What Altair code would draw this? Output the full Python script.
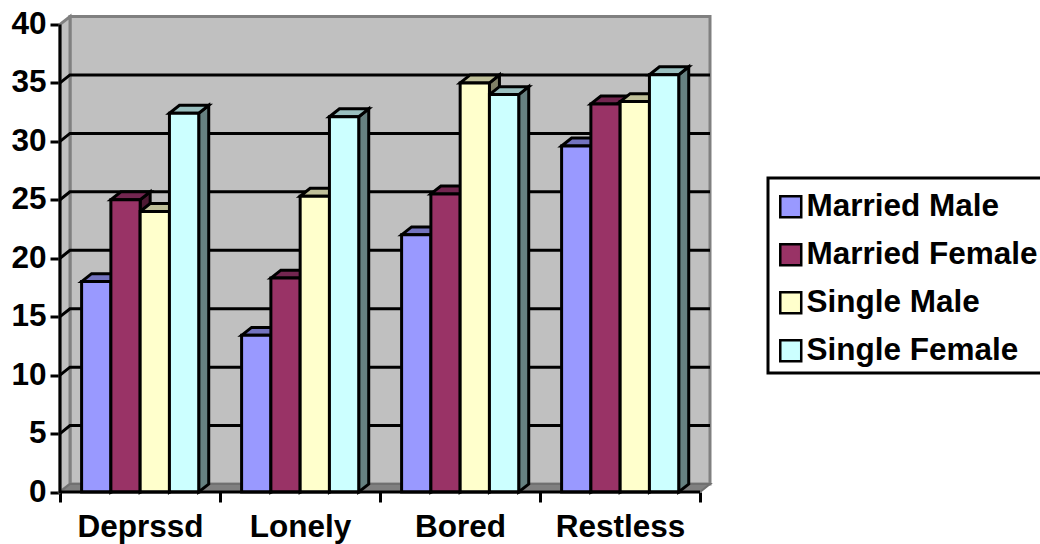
import altair as alt
import pandas as pd

categories = ["Deprssd", "Lonely", "Bored", "Restless"]
series_names = ["Married Male", "Married Female", "Single Male", "Single Female"]
married_male = [18.0, 13.4, 22.0, 29.6]
married_female = [25.0, 18.3, 25.5, 33.2]
single_male = [24.0, 25.3, 35.0, 33.4]
single_female = [32.4, 32.1, 34.0, 35.7]
front_colors = ["#9999FF", "#993366", "#FFFFCC", "#CCFFFF"]
top_colors = ["#7373BF", "#732650", "#BFBF99", "#99BFBF"]
side_colors = ["#4D4D80", "#4D1A33", "#808066", "#668080"]
y_ticks = [0, 5, 10, 15, 20, 25, 30, 35, 40]

# Oblique depth of the pseudo-3D box, in data units
DEPTH_X = 0.0625
DEPTH_Y = 0.68
BAR_START = 0.135
BAR_WIDTH = 0.183
X_MAX = len(categories) + DEPTH_X
Y_TOP = 40

values_by_series = [married_male, married_female, single_male, single_female]

fronts, sides, tops = [], [], []
for s, (name, vals) in enumerate(zip(series_names, values_by_series)):
    for c, v in enumerate(vals):
        x0 = c + BAR_START + s * BAR_WIDTH
        x1 = x0 + BAR_WIDTH
        key = f"{c}-{s}"
        fronts.append(dict(series=name, x=x0, x2=x1, y=v, y2=0))
        sides += [
            dict(bar=key, order=s, x=x1, y=v, y2=0, shade=side_colors[s]),
            dict(bar=key, order=s, x=x1 + DEPTH_X, y=v + DEPTH_Y, y2=DEPTH_Y, shade=side_colors[s]),
        ]
        tops += [
            dict(bar=key, order=s, x=x0, y=v, y2=v, shade=top_colors[s]),
            dict(bar=key, order=s, x=x0 + DEPTH_X, y=v + DEPTH_Y, y2=v, shade=top_colors[s]),
            dict(bar=key, order=s, x=x1, y=v + DEPTH_Y, y2=v, shade=top_colors[s]),
            dict(bar=key, order=s, x=x1 + DEPTH_X, y=v + DEPTH_Y, y2=v + DEPTH_Y, shade=top_colors[s]),
        ]

grid_rows = []
for t in y_ticks[1:-1]:
    grid_rows += [
        dict(tick=t, x=0, y=t),
        dict(tick=t, x=DEPTH_X, y=t + DEPTH_Y),
        dict(tick=t, x=X_MAX, y=t + DEPTH_Y),
    ]

label_list = "[" + ",".join(f"'{c}'" for c in categories) + "]"
x_axis = alt.Axis(
    values=[i / 2 for i in range(2 * len(categories) + 1)],
    domain=False, grid=False, title=None,
    labelExpr=f"datum.value % 1 ? {label_list}[floor(datum.value)] : ''",
    labelOverlap=False, labelBound=False, labelFlush=False,
    labelFont="Liberation Sans", labelFontWeight="bold", labelFontSize=31.5, labelColor="black",
    labelPadding=9, labelBaseline="top",
    tickColor="black", tickWidth=3, tickSize=10,
    tickOpacity={"condition": {"test": "datum.value % 1 === 0", "value": 1}, "value": 0},
)
y_axis = alt.Axis(
    values=y_ticks, domain=False, grid=False, title=None,
    labelFont="Liberation Sans", labelFontWeight="bold", labelFontSize=31.5, labelColor="black",
    labelPadding=4, tickColor="black", tickWidth=3, tickSize=10,
)

x_scale = alt.Scale(domain=[0, X_MAX], nice=False, zero=False)
y_scale = alt.Scale(domain=[0, Y_TOP + DEPTH_Y], nice=False, zero=False)
X = alt.X("x:Q", scale=x_scale, axis=x_axis, title=None)
Y = alt.Y("y:Q", scale=y_scale, axis=y_axis, title=None, stack=None)

# Walls and floor of the box
back_wall = alt.Chart(pd.DataFrame([dict(x=DEPTH_X, x2=X_MAX, y=DEPTH_Y, y2=Y_TOP + DEPTH_Y)])).mark_rect(
    fill="#C0C0C0", stroke="#808080", strokeWidth=3
).encode(x=X, x2="x2:Q", y=Y, y2="y2:Q")
left_wall = alt.Chart(pd.DataFrame([
    dict(x=0, y=Y_TOP, y2=0),
    dict(x=DEPTH_X, y=Y_TOP + DEPTH_Y, y2=DEPTH_Y),
])).mark_area(fill="#C0C0C0", stroke="#808080", strokeWidth=3).encode(x=X, y=Y, y2="y2:Q")
floor = alt.Chart(pd.DataFrame([
    dict(x=0, y=0, y2=0),
    dict(x=DEPTH_X, y=DEPTH_Y, y2=0),
    dict(x=len(categories), y=DEPTH_Y, y2=0),
    dict(x=X_MAX, y=DEPTH_Y, y2=DEPTH_Y),
])).mark_area(fill="#808080", stroke="#707070", strokeWidth=2).encode(x=X, y=Y, y2="y2:Q")

grid = alt.Chart(pd.DataFrame(grid_rows)).mark_line(color="black", strokeWidth=3).encode(
    x=X, y=Y, detail="tick:N"
)

# Bar faces, painted back to front: sides, then tops, then fronts
side_faces = alt.Chart(pd.DataFrame(sides)).mark_area(stroke="black", strokeWidth=3).encode(
    x=X, y=Y, y2="y2:Q",
    color=alt.Color("shade:N", scale=None),
    detail="bar:N",
)
top_faces = alt.Chart(pd.DataFrame(tops)).mark_area(stroke="black", strokeWidth=3).encode(
    x=X, y=Y, y2="y2:Q",
    color=alt.Color("shade:N", scale=None),
    detail="bar:N",
)
front_faces = alt.Chart(pd.DataFrame(fronts)).mark_rect(stroke="black", strokeWidth=3).encode(
    x=X, x2="x2:Q", y=Y, y2="y2:Q",
    color=alt.Color(
        "series:N",
        scale=alt.Scale(domain=series_names, range=front_colors),
        sort=series_names,
        legend=alt.Legend(
            title=None, orient="none", legendX=708, legendY=161.5,
            symbolType="square", symbolSize=440,
            symbolStrokeColor="black", symbolStrokeWidth=2.5, symbolOpacity=1,
            symbolOffset=-6,
            labelFont="Liberation Sans", labelFontWeight="bold", labelFontSize=31.5,
            labelColor="black", labelOffset=0, labelLimit=400,
            rowPadding=15, padding=13,
        ),
    ),
)

# Frame around the legend, running off the right edge of the canvas
legend_frame = alt.Chart(pd.DataFrame([dict(label="frame")])).mark_rect(
    fill="white", stroke="black", strokeWidth=3, clip=False
).encode(
    x=alt.value(708), x2=alt.value(1000), y=alt.value(161.5), y2=alt.value(356.5)
)

axis_lines = alt.Chart(pd.DataFrame([
    dict(x=0, y=Y_TOP, step=0), dict(x=0, y=0, step=1), dict(x=len(categories), y=0, step=2),
])).mark_line(color="black", strokeWidth=3).encode(x=X, y=Y, order=alt.Order("step:Q"))

chart = (
    alt.layer(legend_frame, back_wall, left_wall, floor, grid, side_faces, top_faces, front_faces, axis_lines)
    .properties(
        width=650, height=475.5,
        autosize=alt.AutoSizeParams(type="none"),
        padding={"left": 60, "top": 16.5, "right": 330, "bottom": 52},
        background="white",
    )
    .configure_view(stroke=None)
)

chart.save("out.html", embed_options={"renderer": "svg", "actions": False})
